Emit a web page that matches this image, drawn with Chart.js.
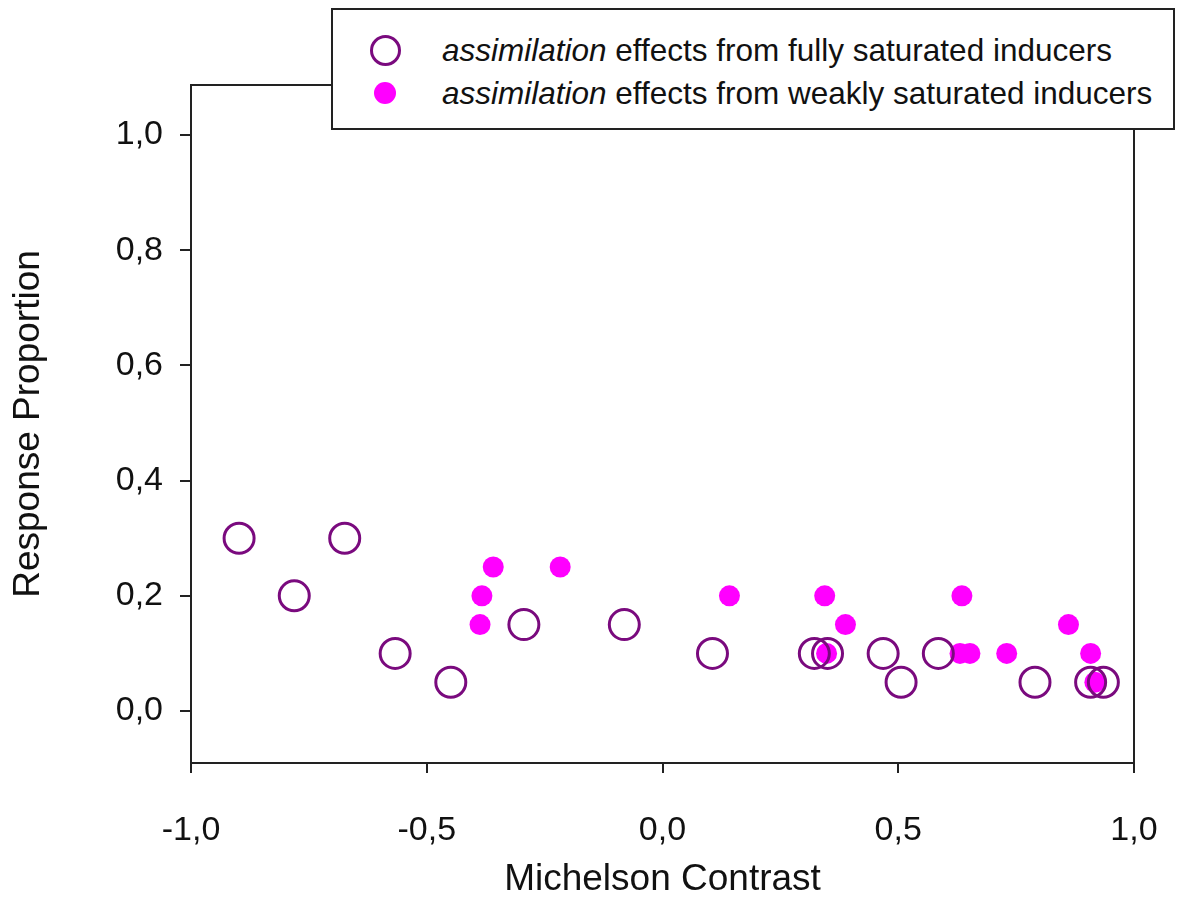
<!DOCTYPE html>
<html>
<head>
<meta charset="utf-8">
<script src="https://cdn.jsdelivr.net/npm/chart.js@4.4.1/dist/chart.umd.min.js"></script>
<style>
html, body { margin: 0; padding: 0; background: #fff; }
#wrap { position: relative; width: 1184px; height: 899px; }
#legend {
  position: absolute; left: 331px; top: 8px; width: 840px; height: 118px;
  border: 2px solid #222; background: #fff;
  font-family: "Liberation Sans", Arial, sans-serif; font-size: 31.5px; color: #111;
}
.row { position: absolute; left: 109px; height: 40px; line-height: 40px; white-space: nowrap; }
.mk { position: absolute; box-sizing: border-box; border-radius: 50%; }
</style>
</head>
<body>
<div id="wrap">
  <canvas id="chart" width="1184" height="899"></canvas>
  <div id="legend">
    <div class="mk" style="left:37px;top:25px;width:31px;height:31px;border:3px solid #7a0a7e;"></div>
    <div class="row" style="top:20px;"><i>assimilation</i> effects from fully saturated inducers</div>
    <div class="mk" style="left:41px;top:72px;width:22px;height:22px;background:#ff00ff;"></div>
    <div class="row" style="top:63px;"><i>assimilation</i> effects from weakly saturated inducers</div>
  </div>
</div>
<script>
// axis ticks
const xTicks = [-1.0, -0.5, 0.0, 0.5, 1.0];
const yTicks = [0.0, 0.2, 0.4, 0.6, 0.8, 1.0];

// assimilation effects from fully saturated inducers (open circles)
const fullX = [-0.898, -0.781, -0.674, -0.567, -0.449, -0.294, -0.081, 0.106, 0.322, 0.350, 0.468, 0.506, 0.585, 0.790, 0.908, 0.935];
const fullY = [0.30, 0.20, 0.30, 0.10, 0.05, 0.15, 0.15, 0.10, 0.10, 0.10, 0.10, 0.05, 0.10, 0.05, 0.05, 0.05];

// assimilation effects from weakly saturated inducers (filled dots)
const weakX = [-0.387, -0.383, -0.359, -0.217, 0.142, 0.344, 0.388, 0.348, 0.635, 0.631, 0.652, 0.730, 0.861, 0.908, 0.917];
const weakY = [0.15, 0.20, 0.25, 0.25, 0.20, 0.20, 0.15, 0.10, 0.20, 0.10, 0.10, 0.10, 0.15, 0.10, 0.05];

const FONT = "'Liberation Sans', Arial, sans-serif";
const fmt = v => v.toFixed(1).replace(".", ",");
const toPts = (xs, ys) => xs.map((x, i) => ({ x, y: ys[i] }));

// frame around the plot area (left/bottom plus right/top)
const framePlugin = {
  id: "frame",
  afterDraw(chart) {
    const { ctx, chartArea: a } = chart;
    ctx.save();
    ctx.strokeStyle = "#222";
    ctx.lineWidth = 2;
    ctx.strokeRect(a.left, a.top, a.right - a.left, a.bottom - a.top);
    ctx.restore();
  }
};

new Chart(document.getElementById("chart"), {
  type: "scatter",
  data: {
    datasets: [
      {
        label: "assimilation effects from fully saturated inducers",
        data: toPts(fullX, fullY),
        pointStyle: "circle",
        pointRadius: 15,
        pointBorderWidth: 3,
        borderColor: "#7a0a7e",
        backgroundColor: "rgba(0,0,0,0)",
        order: 0
      },
      {
        label: "assimilation effects from weakly saturated inducers",
        data: toPts(weakX, weakY),
        pointStyle: "circle",
        pointRadius: 10.5,
        pointBorderWidth: 0,
        borderColor: "#ff00ff",
        backgroundColor: "#ff00ff",
        order: 1
      }
    ]
  },
  options: {
    responsive: false,
    animation: false,
    layout: { padding: { top: 85, right: 50, left: 0, bottom: 0 } },
    plugins: { legend: { display: false }, tooltip: { enabled: false } },
    scales: {
      x: {
        type: "linear",
        min: -1, max: 1,
        afterBuildTicks: s => { s.ticks = xTicks.map(v => ({ value: v })); },
        afterFit: s => { s.height = 136; s.paddingLeft = 0; s.paddingRight = 0; },
        grid: { drawOnChartArea: false, drawTicks: true, tickLength: 10, lineWidth: 2, color: "#222" },
        border: { display: false },
        ticks: { color: "#111", font: { family: FONT, size: 34 }, padding: 37, callback: v => fmt(v), maxRotation: 0 },
        title: { display: true, text: "Michelson Contrast", color: "#111", font: { family: FONT, size: 37 }, padding: { top: 0, bottom: -3 } }
      },
      y: {
        type: "linear",
        min: -0.0902, max: 1.0867,
        afterBuildTicks: s => { s.ticks = yTicks.map(v => ({ value: v })); },
        afterFit: s => { s.width = 191; s.paddingTop = 0; s.paddingBottom = 0; },
        grid: { drawOnChartArea: false, drawTicks: true, tickLength: 11, lineWidth: 2, color: "#222" },
        border: { display: false },
        ticks: { color: "#111", font: { family: FONT, size: 34 }, padding: 17, callback: v => fmt(v) },
        title: { display: true, text: "Response Proportion", color: "#111", font: { family: FONT, size: 37 }, padding: { top: 7, bottom: 0 } }
      }
    }
  },
  plugins: [framePlugin]
});
</script>
</body>
</html>
